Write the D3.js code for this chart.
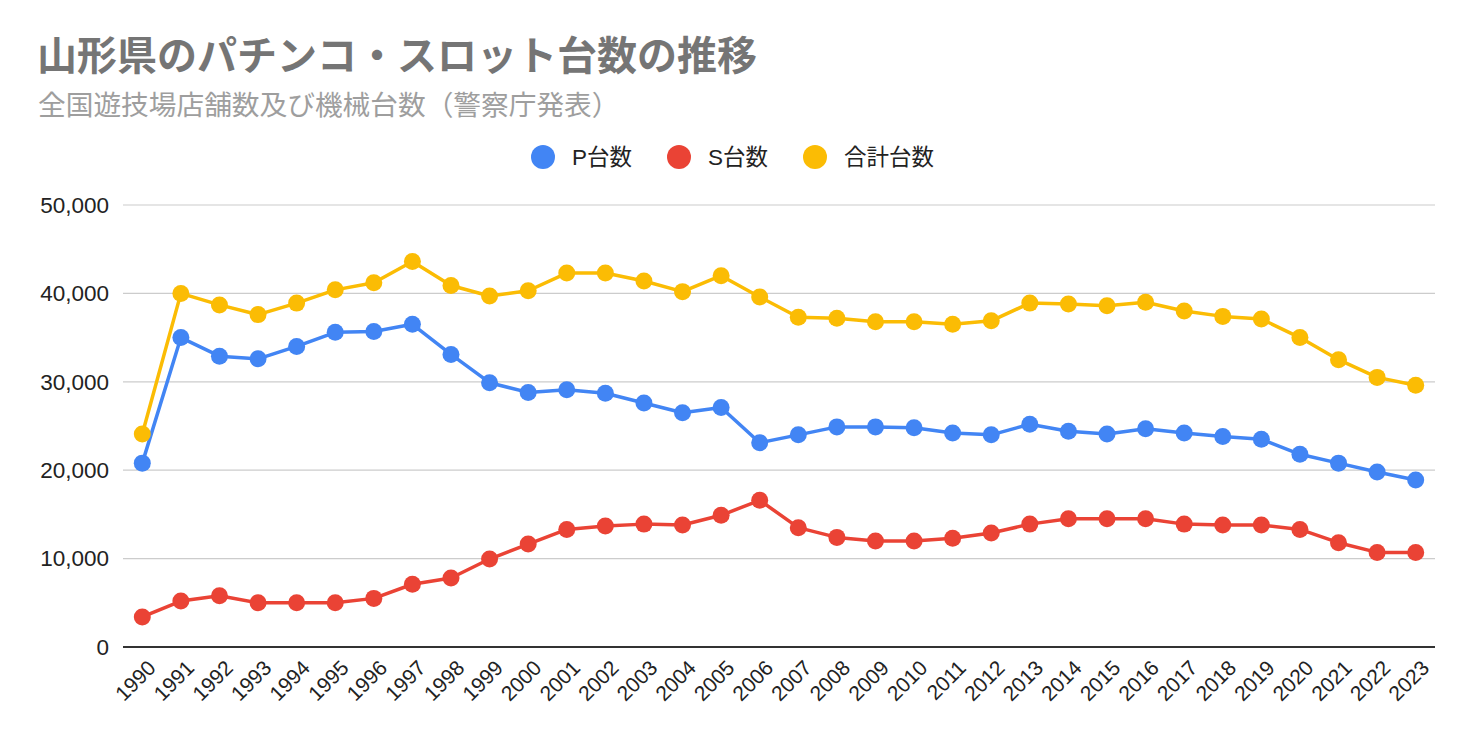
<!DOCTYPE html>
<html><head><meta charset="utf-8">
<script src="https://cdn.jsdelivr.net/npm/d3@7"></script>
<style>
html,body{margin:0;padding:0;background:#fff;}
svg{display:block;font-family:Arial,"Liberation Sans","Noto Sans CJK JP",sans-serif;}
</style></head>
<body><svg id="c" width="1472" height="742"></svg>
<script>
const years = ["1990","1991","1992","1993","1994","1995","1996","1997","1998","1999","2000","2001","2002","2003","2004","2005","2006","2007","2008","2009","2010","2011","2012","2013","2014","2015","2016","2017","2018","2019","2020","2021","2022","2023"];
const pValues = [20800,35000,32900,32600,34000,35600,35700,36500,33100,29900,28800,29100,28700,27600,26500,27100,23100,24000,24900,24900,24800,24200,24000,25200,24400,24100,24700,24200,23800,23500,21800,20800,19800,18900];
const sValues = [3400,5200,5800,5000,5000,5000,5500,7100,7800,9950,11650,13300,13700,13900,13800,14900,16600,13500,12400,12000,12000,12300,12900,13900,14500,14500,14500,13900,13800,13800,13300,11800,10700,10700];
const totalValues = [24100,40000,38700,37600,38900,40400,41200,43600,40900,39700,40300,42300,42300,41400,40200,42000,39600,37300,37200,36800,36800,36500,36900,38900,38800,38600,39000,38000,37400,37100,35000,32500,30500,29600];
const yTicks = [0,10000,20000,30000,40000,50000];
const seriesNames = ["P台数","S台数","合計台数"];
const seriesColors = ["#4285f4","#ea4335","#fbbc04"];
const titleText = "山形県のパチンコ・スロット台数の推移";
const subtitleText = "全国遊技場店舗数及び機械台数（警察庁発表）";

(function(){
const svg = d3.select("#c");
const pLeft = 123, pRight = 1435, pTop = 205, pBottom = 647;
const x = d3.scalePoint().domain(years).range([pLeft, pRight]).padding(0.5);
const y = d3.scaleLinear().domain([0, 50000]).range([pBottom, pTop]);

svg.append("text").attr("x", 37).attr("y", 70).attr("font-size", 40).attr("font-weight", "bold")
  .attr("fill", "#757575").attr("font-family", "'Noto Sans CJK JP',sans-serif").text(titleText);
svg.append("text").attr("x", 38).attr("y", 115).attr("font-size", 27.7)
  .attr("fill", "#9e9e9e").attr("font-family", "'Noto Sans CJK JP',sans-serif").text(subtitleText);

svg.append("g").selectAll("line").data(yTicks.filter(d => d > 0)).join("line")
  .attr("x1", pLeft).attr("x2", pRight).attr("y1", d => y(d)).attr("y2", d => y(d))
  .attr("stroke", "#cccccc").attr("stroke-width", 1.2);

const yAxis = svg.append("g").attr("transform", `translate(${pLeft},0)`)
  .call(d3.axisLeft(y).tickValues(yTicks).tickFormat(d3.format(",")).tickSize(0).tickPadding(14));
yAxis.select(".domain").remove();
yAxis.selectAll("text").attr("font-size", 22.5).attr("fill", "#222").attr("font-family", "Arial,'Liberation Sans',sans-serif");

const xAxis = svg.append("g").attr("transform", `translate(0,${pBottom})`)
  .call(d3.axisBottom(x).tickSize(0).tickPadding(0));
xAxis.select(".domain").remove();
xAxis.selectAll("text").attr("font-size", 21).attr("fill", "#222")
  .attr("font-family", "Arial,'Liberation Sans',sans-serif")
  .attr("text-anchor", "end").attr("x", 0).attr("y", 0).attr("dy", "0.35em")
  .attr("transform", "translate(9,17) rotate(-45)");

svg.append("line").attr("x1", pLeft).attr("x2", pRight).attr("y1", pBottom).attr("y2", pBottom)
  .attr("stroke", "#333").attr("stroke-width", 2);

const allSeries = [pValues, sValues, totalValues];
const line = d3.line().x((d, i) => x(years[i])).y(d => y(d));
allSeries.forEach((vals, k) => {
  const g = svg.append("g");
  g.append("path").datum(vals).attr("d", line).attr("fill", "none")
    .attr("stroke", seriesColors[k]).attr("stroke-width", 3.5).attr("stroke-linejoin", "round");
  g.selectAll("circle").data(vals).join("circle")
    .attr("cx", (d, i) => x(years[i])).attr("cy", d => y(d)).attr("r", 8.5).attr("fill", seriesColors[k]);
});

const legendX = [543, 679, 815];
const lg = svg.append("g");
seriesNames.forEach((n, k) => {
  lg.append("circle").attr("cx", legendX[k]).attr("cy", 157).attr("r", 12).attr("fill", seriesColors[k]);
  lg.append("text").attr("x", legendX[k] + 29).attr("y", 165).attr("font-size", 22.5).attr("fill", "#222")
    .attr("font-family", "Arial,'Liberation Sans','Noto Sans CJK JP',sans-serif").text(n);
});
})();
</script></body></html>
